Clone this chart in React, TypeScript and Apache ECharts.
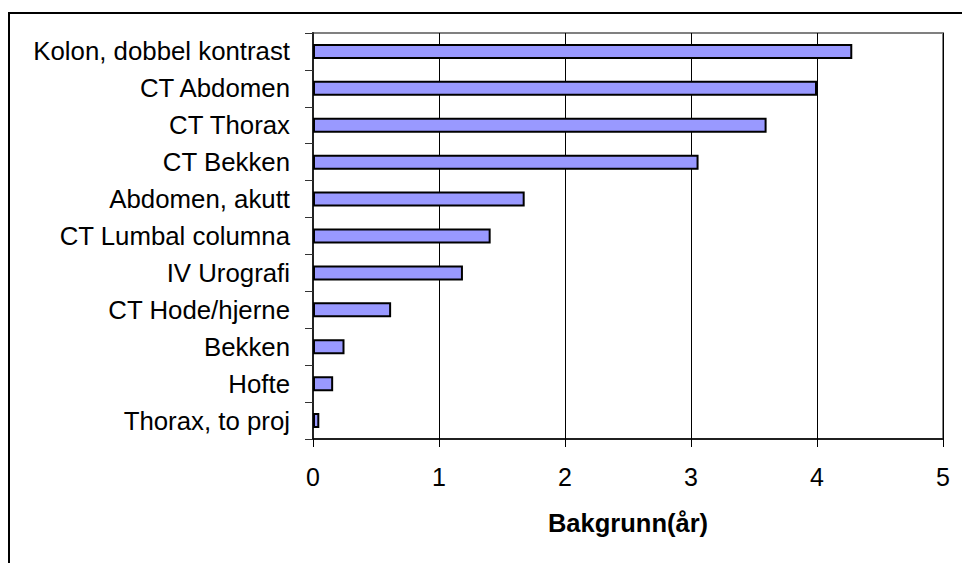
import React, { useEffect, useRef } from "react";
import * as echarts from "echarts";

const categories = [
  "Kolon, dobbel kontrast",
  "CT Abdomen",
  "CT Thorax",
  "CT Bekken",
  "Abdomen, akutt",
  "CT Lumbal columna",
  "IV Urografi",
  "CT Hode/hjerne",
  "Bekken",
  "Hofte",
  "Thorax, to proj",
];
const values = [4.28, 4.0, 3.6, 3.06, 1.68, 1.41, 1.19, 0.62, 0.25, 0.16, 0.05];
const xAxisTitle = "Bakgrunn(år)";
const xMin = 0;
const xMax = 5;
const xStep = 1;

const FONT = "'Liberation Sans', Arial, sans-serif";

export default function App() {
  const ref = useRef<HTMLDivElement>(null);
  useEffect(() => {
    if (!ref.current) return;
    const chart = echarts.init(ref.current, null, { renderer: "svg" });
    chart.setOption({
      animation: false,
      backgroundColor: "#ffffff",
      graphic: [
        {
          type: "rect",
          shape: { x: 9, y: 13, width: 1000, height: 600 },
          style: { fill: "none", stroke: "#000000", lineWidth: 2 },
          silent: true,
        },
      ],
      grid: {
        left: 313,
        top: 33,
        right: 19,
        bottom: 124,
        show: true,
        borderColor: "#808080",
        borderWidth: 2,
        backgroundColor: "transparent",
      },
      xAxis: {
        type: "value",
        min: xMin,
        max: xMax,
        interval: xStep,
        name: xAxisTitle,
        nameLocation: "middle",
        nameGap: 71,
        nameTextStyle: {
          fontFamily: FONT,
          fontSize: 25.5,
          fontWeight: "bold",
          color: "#000",
        },
        axisLine: { show: true, lineStyle: { color: "#000", width: 1.5 } },
        axisTick: { show: true, length: 8, lineStyle: { color: "#000", width: 1 } },
        axisLabel: {
          fontFamily: FONT,
          fontSize: 25,
          color: "#000",
          margin: 25,
        },
        splitLine: { show: true, lineStyle: { color: "#000", width: 1 } },
      },
      yAxis: {
        type: "category",
        data: categories,
        inverse: true,
        axisLine: { show: true, lineStyle: { color: "#222", width: 2 } },
        axisTick: { show: true, length: 8, lineStyle: { color: "#333", width: 1 } },
        axisLabel: {
          fontFamily: FONT,
          fontSize: 25.8,
          color: "#000",
          margin: 23,
        },
        splitLine: { show: false },
      },
      series: [
        {
          type: "bar",
          data: values,
          barWidth: 15,
          itemStyle: { color: "#9999FF", borderColor: "#000", borderWidth: 2 },
        },
      ],
    });
    return () => chart.dispose();
  }, []);
  return (
    <div
      ref={ref}
      style={{ position: "fixed", left: 0, top: 0, width: 962, height: 563 }}
    />
  );
}
